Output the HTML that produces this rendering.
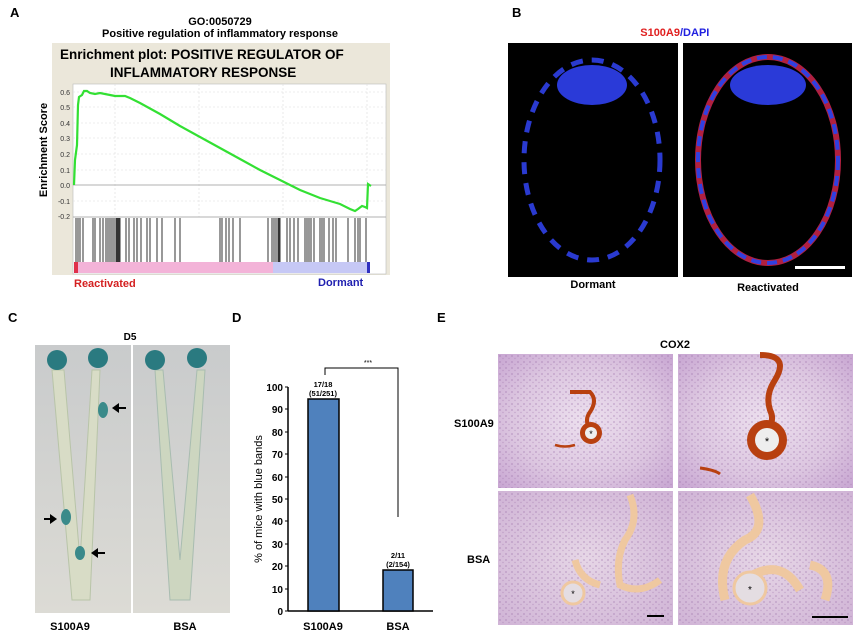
<!DOCTYPE html>
<html><head><meta charset="utf-8"><style>
html,body{margin:0;padding:0;background:#fff;}
svg{display:block;font-family:"Liberation Sans",Arial,sans-serif;}
</style></head><body>
<svg width="862" height="635" viewBox="0 0 862 635" xmlns="http://www.w3.org/2000/svg">
<defs>
<radialGradient id="tis" cx="50%" cy="50%" r="70%"><stop offset="0" stop-color="#ecdfee"/><stop offset="0.6" stop-color="#dcc6e0"/><stop offset="1" stop-color="#c8a6d2"/></radialGradient>
<radialGradient id="tis2" cx="50%" cy="50%" r="70%"><stop offset="0" stop-color="#e6d6e6"/><stop offset="1" stop-color="#d0b4d6"/></radialGradient>
<linearGradient id="photo" x1="0" y1="0" x2="0" y2="1"><stop offset="0" stop-color="#c9cbcc"/><stop offset="1" stop-color="#dcdbd5"/></linearGradient>
<pattern id="dots" width="6" height="6" patternUnits="userSpaceOnUse"><circle cx="2" cy="2" r="0.9" fill="#9a6fa8" opacity="0.5"/><circle cx="5" cy="4.5" r="0.7" fill="#9a6fa8" opacity="0.4"/></pattern>
</defs>
<g font-weight="bold" font-size="13">
<text x="10" y="17">A</text><text x="512" y="17">B</text><text x="8" y="322">C</text><text x="232" y="322">D</text><text x="437" y="322">E</text>
</g>
<!-- Panel A -->
<text x="220" y="25" font-size="11" font-weight="bold" text-anchor="middle">GO:0050729</text>
<text x="220" y="37" font-size="11" font-weight="bold" text-anchor="middle">Positive regulation of inflammatory response</text>
<rect x="52" y="43" width="338" height="232" fill="#ebe7da"/>
<text x="60" y="59" font-size="13.5" font-weight="bold">Enrichment plot: POSITIVE REGULATOR OF</text>
<text x="110" y="77" font-size="13.5" font-weight="bold">INFLAMMATORY RESPONSE</text>
<rect x="73" y="84" width="313" height="190" fill="#fff" stroke="#bbb" stroke-width="0.6"/>
<g stroke="#ddd" stroke-dasharray="2,2" stroke-width="0.6">
<line x1="73" y1="92" x2="386" y2="92"/><line x1="73" y1="107" x2="386" y2="107"/><line x1="73" y1="123" x2="386" y2="123"/><line x1="73" y1="138" x2="386" y2="138"/><line x1="73" y1="154" x2="386" y2="154"/><line x1="73" y1="170" x2="386" y2="170"/><line x1="73" y1="201" x2="386" y2="201"/>
<line x1="115" y1="84" x2="115" y2="217"/><line x1="199" y1="84" x2="199" y2="217"/><line x1="283" y1="84" x2="283" y2="217"/><line x1="367" y1="84" x2="367" y2="217"/>
</g>
<line x1="73" y1="185" x2="386" y2="185" stroke="#999" stroke-width="0.7"/>
<line x1="73" y1="217" x2="386" y2="217" stroke="#999" stroke-width="0.7"/>
<g font-size="7" text-anchor="end" fill="#333">
<text x="70" y="95">0.6</text><text x="70" y="110">0.5</text><text x="70" y="126">0.4</text><text x="70" y="141">0.3</text><text x="70" y="157">0.2</text><text x="70" y="173">0.1</text><text x="70" y="188">0.0</text><text x="70" y="204">-0.1</text><text x="70" y="219">-0.2</text>
</g>
<text transform="translate(47,150) rotate(-90)" font-size="11" font-weight="bold" text-anchor="middle">Enrichment Score</text>
<polyline fill="none" stroke="#33e033" stroke-width="2.2" points="74,185 75,160 77,145 78,105 79,97 82,95 84,91 87,91 90,93 95,94 100,93 110,95 115,96 125,96 130,98 140,103 160,114 180,126 200,137 220,148 240,159 260,170 280,180 290,185 300,190 320,198 330,201 340,204 350,209 355,211 358,209 362,206 365,207 367,208 368,184 371,186"/>
<g stroke="#000" stroke-width="0.8">
<path d="M76 218v44M78 218v44M80 218v44M83 218v44M93 218v44M95 218v44M100 218v44M103 218v44M106 218v44M108 218v44M110 218v44M112 218v44M114 218v44M116 218v44M117 218v44M118 218v44M119 218v44M120 218v44M126 218v44M129 218v44M134 218v44M137 218v44M141 218v44M147 218v44M150 218v44M157 218v44M162 218v44M175 218v44M180 218v44M220 218v44M222 218v44M226 218v44M229 218v44M233 218v44M240 218v44M268 218v44M272 218v44M274 218v44M276 218v44M278 218v44M279 218v44M280 218v44M287 218v44M290 218v44M294 218v44M298 218v44M305 218v44M307 218v44M309 218v44M311 218v44M314 218v44M320 218v44M322 218v44M324 218v44M329 218v44M333 218v44M336 218v44M348 218v44M355 218v44M358 218v44M360 218v44M366 218v44"/>
</g>
<rect x="74" y="262" width="199" height="11" fill="#f3b3d8"/>
<rect x="273" y="262" width="96" height="11" fill="#c6c8f5"/>
<rect x="74" y="262" width="4" height="11" fill="#e0304a"/>
<rect x="367" y="262" width="3" height="11" fill="#3030c0"/>
<text x="74" y="287" font-size="11" font-weight="bold" fill="#d42020">Reactivated</text>
<text x="318" y="286" font-size="11" font-weight="bold" fill="#2020b0">Dormant</text>
<!-- Panel B -->
<text x="680" y="36" font-size="11" font-weight="bold" text-anchor="end" fill="#e02020">S100A9</text>
<text x="680" y="36" font-size="11" font-weight="bold" fill="#2020e0">/DAPI</text>
<rect x="508" y="43" width="170" height="234" fill="#000"/>
<rect x="683" y="43" width="169" height="234" fill="#000"/>
<ellipse cx="592" cy="160" rx="68" ry="100" fill="none" stroke="#2a3ad0" stroke-width="5" stroke-dasharray="12,9"/>
<ellipse cx="592" cy="85" rx="35" ry="20" fill="#2a3ad8"/>
<ellipse cx="768" cy="160" rx="70" ry="103" fill="none" stroke="#b02040" stroke-width="6"/>
<ellipse cx="768" cy="160" rx="70" ry="103" fill="none" stroke="#3040e0" stroke-width="4" stroke-dasharray="10,6"/>
<ellipse cx="768" cy="85" rx="38" ry="20" fill="#2a3ad8"/>
<rect x="795" y="266" width="50" height="3" fill="#fff"/>
<text x="593" y="288" font-size="11" font-weight="bold" text-anchor="middle">Dormant</text>
<text x="768" y="291" font-size="11" font-weight="bold" text-anchor="middle">Reactivated</text>
<!-- Panel C -->
<text x="130" y="340" font-size="10" font-weight="bold" text-anchor="middle">D5</text>
<rect x="35" y="345" width="96" height="268" fill="url(#photo)"/>
<rect x="133" y="345" width="97" height="268" fill="url(#photo)"/>
<path d="M52 370 L72 600 L90 600 L100 370 L92 370 L80 560 L64 370Z" fill="#d8dcc6" stroke="#b8c4a8"/>
<path d="M155 370 L170 600 L190 600 L205 370 L197 370 L180 560 L163 370Z" fill="#cdd6c0" stroke="#a8bcb0"/>
<circle cx="57" cy="360" r="10" fill="#2a7a80"/><circle cx="98" cy="358" r="10" fill="#2a7a80"/>
<circle cx="155" cy="360" r="10" fill="#2a7a80"/><circle cx="197" cy="358" r="10" fill="#2a7a80"/>
<ellipse cx="103" cy="410" rx="5" ry="8" fill="#3a8a8a"/><ellipse cx="66" cy="517" rx="5" ry="8" fill="#3a8a8a"/><ellipse cx="80" cy="553" rx="5" ry="7" fill="#3a8a8a"/>
<g stroke="#000" stroke-width="2"><path d="M117 408h9"/><path d="M44 519h7"/><path d="M96 553h9"/></g>
<g fill="#000"><polygon points="112,408 119,403 119,413"/><polygon points="57,519 50,514 50,524"/><polygon points="91,553 98,548 98,558"/></g>
<text x="70" y="630" font-size="11" font-weight="bold" text-anchor="middle">S100A9</text>
<text x="185" y="630" font-size="11" font-weight="bold" text-anchor="middle">BSA</text>
<!-- Panel D -->
<g stroke="#000" stroke-width="1.5">
<line x1="288" y1="387" x2="288" y2="611"/><line x1="288" y1="611" x2="433" y2="611"/>
</g>
<g stroke="#000" stroke-width="1" fill="none">
<path d="M285 387h3M285 409h3M285 432h3M285 454h3M285 477h3M285 499h3M285 521h3M285 544h3M285 566h3M285 589h3M285 611h3"/>
<path d="M325 375V368H398V517"/>
</g>
<g font-size="10" font-weight="bold" text-anchor="end">
<text x="283" y="391">100</text><text x="283" y="413">90</text><text x="283" y="436">80</text><text x="283" y="458">70</text><text x="283" y="481">60</text><text x="283" y="503">50</text><text x="283" y="525">40</text><text x="283" y="548">30</text><text x="283" y="570">20</text><text x="283" y="593">10</text><text x="283" y="615">0</text>
</g>
<text transform="translate(262,499) rotate(-90)" font-size="11" text-anchor="middle">% of mice with blue bands</text>
<rect x="308" y="399" width="31" height="212" fill="#4f81bd" stroke="#000" stroke-width="1.5"/>
<rect x="383" y="570" width="30" height="41" fill="#4f81bd" stroke="#000" stroke-width="1.5"/>
<text x="368" y="365" font-size="7" text-anchor="middle">***</text>
<g font-size="7.5" font-weight="bold" text-anchor="middle">
<text x="323" y="387">17/18</text><text x="323" y="396">(51/251)</text>
<text x="398" y="558">2/11</text><text x="398" y="567">(2/154)</text>
</g>
<text x="323" y="630" font-size="11" font-weight="bold" text-anchor="middle">S100A9</text>
<text x="398" y="630" font-size="11" font-weight="bold" text-anchor="middle">BSA</text>
<!-- Panel E -->
<text x="675" y="348" font-size="11" font-weight="bold" text-anchor="middle">COX2</text>
<text x="454" y="427" font-size="11" font-weight="bold">S100A9</text>
<text x="467" y="563" font-size="11" font-weight="bold">BSA</text>
<rect x="498" y="354" width="175" height="134" fill="url(#tis)"/><rect x="498" y="354" width="175" height="134" fill="url(#dots)"/>
<rect x="678" y="354" width="175" height="134" fill="url(#tis)"/><rect x="678" y="354" width="175" height="134" fill="url(#dots)"/>
<rect x="498" y="491" width="175" height="134" fill="url(#tis2)"/><rect x="498" y="491" width="175" height="134" fill="url(#dots)"/>
<rect x="678" y="491" width="175" height="134" fill="url(#tis2)"/><rect x="678" y="491" width="175" height="134" fill="url(#dots)"/>
<path d="M570 392 L590 392 Q598 400 590 412 Q584 420 590 430" fill="none" stroke="#b8400f" stroke-width="4"/>
<circle cx="591" cy="433" r="11" fill="#b84010"/><circle cx="591" cy="433" r="6" fill="#eee"/>
<text x="591" y="437" font-size="9" text-anchor="middle">*</text>
<path d="M555 445 Q565 448 575 445" stroke="#b84010" stroke-width="2.5" fill="none"/>
<path d="M760 355 Q790 355 775 380 Q765 395 770 410 Q775 420 768 428" fill="none" stroke="#b8400f" stroke-width="6"/>
<circle cx="767" cy="440" r="20" fill="#b84010"/><circle cx="767" cy="440" r="12" fill="#eee"/>
<text x="767" y="445" font-size="11" text-anchor="middle">*</text>
<path d="M700 468 Q715 470 720 474" stroke="#b84010" stroke-width="3" fill="none"/>
<path d="M630 495 Q640 520 625 540 Q615 560 620 585 Q640 595 660 580 M600 585 Q580 580 575 560" fill="none" stroke="#efc8a0" stroke-width="7"/>
<circle cx="573" cy="593" r="11" fill="#e4dde2" stroke="#efc8a0" stroke-width="3"/>
<text x="573" y="597" font-size="9" text-anchor="middle">*</text>
<path d="M750 495 Q770 530 745 540 Q715 560 725 600 M745 580 Q780 555 800 590 M810 565 Q835 570 825 600" fill="none" stroke="#efc8a0" stroke-width="9"/>
<circle cx="750" cy="588" r="16" fill="#e4dde2" stroke="#efc8a0" stroke-width="3"/>
<text x="750" y="593" font-size="10" text-anchor="middle">*</text>
<rect x="647" y="615" width="17" height="2" fill="#000"/>
<rect x="812" y="616" width="36" height="2" fill="#000"/>
</svg>
</body></html>
